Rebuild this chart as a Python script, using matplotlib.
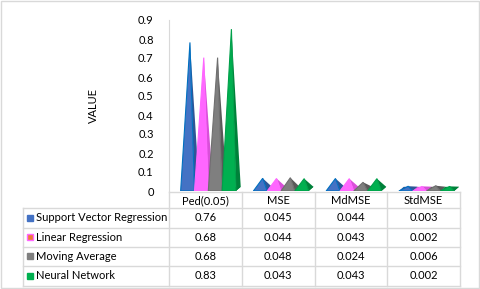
import matplotlib
matplotlib.use("Agg")
import matplotlib.pyplot as plt
from matplotlib.patches import Polygon, Rectangle

plt.rcParams['font.family'] = ['Lato', 'DejaVu Sans']

categories = ["Ped(0.05)", "MSE", "MdMSE", "StdMSE"]
series_names = ["Support Vector Regression", "Linear Regression", "Moving Average", "Neural Network"]
svr = [0.76, 0.045, 0.044, 0.003]
lr = [0.68, 0.044, 0.043, 0.002]
ma = [0.68, 0.048, 0.024, 0.006]
nn = [0.83, 0.043, 0.043, 0.002]
svr_lbl = ["0.76", "0.045", "0.044", "0.003"]
lr_lbl = ["0.68", "0.044", "0.043", "0.002"]
ma_lbl = ["0.68", "0.048", "0.024", "0.006"]
nn_lbl = ["0.83", "0.043", "0.043", "0.002"]
yticks = [0, 0.1, 0.2, 0.3, 0.4, 0.5, 0.6, 0.7, 0.8, 0.9]
ytick_labels = ["0", "0.1", "0.2", "0.3", "0.4", "0.5", "0.6", "0.7", "0.8", "0.9"]

values = [svr, lr, ma, nn]
labels = [svr_lbl, lr_lbl, ma_lbl, nn_lbl]
front = ['#4472C4', '#FF66FF', '#7F7F7F', '#00B050']
edge = ['#0070C0', '#FF66FF', '#6F6F6F', '#00A04A']
side = ['#2F5597', '#D94FD9', '#595959', '#00813A']
key_face = ['#4472C4', '#ED7D31', '#7F7F7F', '#00B050']
key_edge = ['#4472C4', '#FF66FF', '#7F7F7F', '#00B050']

W, H = 480, 289
fig = plt.figure(figsize=(W / 100, H / 100), dpi=100)

def fx(x):
    return x / W

def fy(y):
    return 1 - y / H

# plot area
L, R, T, B = 169, 460, 20, 191
ax = fig.add_axes([fx(L), fy(B), (R - L) / W, (B - T) / H])
ax.set_xlim(-0.5, len(categories) - 0.5)
ax.set_ylim(0, 0.9)
ax.set_yticks(yticks)
ax.set_yticklabels(ytick_labels, fontsize=8, color='#000000')
ax.tick_params(axis='y', length=0, pad=11)
ax.set_xticks([])
for s in ['top', 'right', 'bottom']:
    ax.spines[s].set_visible(False)
ax.spines['left'].set_color('#D9D9D9')
ax.set_ylabel("VALUE", fontsize=8, labelpad=28)
ax.patch.set_alpha(0)

w = 0.19
off = 0.04
dx = 0.066
dy = 0.022
n = len(values)
for j in range(n):
    for i, v in enumerate(values[j]):
        c = i + (j - (n - 1) / 2) * w + off
        x0, x1 = c - w / 2, c + w / 2
        apex = (c + dx / 2, v + dy)
        base = Polygon([(x0, 0), (x1, 0), (x1 + dx, dy), (x0 + dx, dy)],
                       closed=True, facecolor=side[j], edgecolor='none', zorder=2 + j)
        rface = Polygon([(x1, 0), (x1 + dx, dy), apex], closed=True,
                        facecolor=side[j], edgecolor='none', zorder=2 + j)
        fface = Polygon([(x0, 0), (x1, 0), apex], closed=True,
                        facecolor=front[j], edgecolor=edge[j], linewidth=0.8, zorder=2 + j)
        ax.add_patch(base)
        ax.add_patch(rface)
        ax.add_patch(fface)

# data table (in pixel coordinates)
tax = fig.add_axes([0, 0, 1, 1])
tax.set_xlim(0, W)
tax.set_ylim(H, 0)
tax.axis('off')
grid = '#D9D9D9'
col_x = [22.7, 169, 241.75, 314.5, 387.25, 460]
row_y = [192, 208.3, 227.6, 246.9, 266.2, 285.6]

# horizontal lines
tax.plot([col_x[1], col_x[-1]], [row_y[0]] * 2, color=grid, lw=1)
for y in row_y[1:]:
    tax.plot([col_x[0], col_x[-1]], [y, y], color=grid, lw=1)
# vertical lines
tax.plot([col_x[0]] * 2, [row_y[1], row_y[-1]], color=grid, lw=1)
for x in col_x[1:]:
    tax.plot([x, x], [row_y[0], row_y[-1]], color=grid, lw=1)

fs = 8
for k, cat in enumerate(categories):
    cx = (col_x[k + 1] + col_x[k + 2]) / 2
    tax.text(cx, (row_y[0] + row_y[1]) / 2 + 0.5, cat, ha='center', va='center', fontsize=fs)
for j, name in enumerate(series_names):
    cy = (row_y[j + 1] + row_y[j + 2]) / 2
    tax.add_patch(Rectangle((26.5, cy - 3.2), 6, 6, facecolor=key_face[j],
                            edgecolor=key_edge[j], lw=1))
    tax.text(36, cy, name, ha='left', va='center', fontsize=fs)
    for k in range(len(categories)):
        cx = (col_x[k + 1] + col_x[k + 2]) / 2
        tax.text(cx, cy, labels[j][k], ha='center', va='center', fontsize=fs)

# figure border
tax.add_patch(Rectangle((0.5, 0.5), W - 1.5, H - 1.5, facecolor='none', edgecolor='#D9D9D9', lw=1))

fig.savefig("out.png", dpi=100)
